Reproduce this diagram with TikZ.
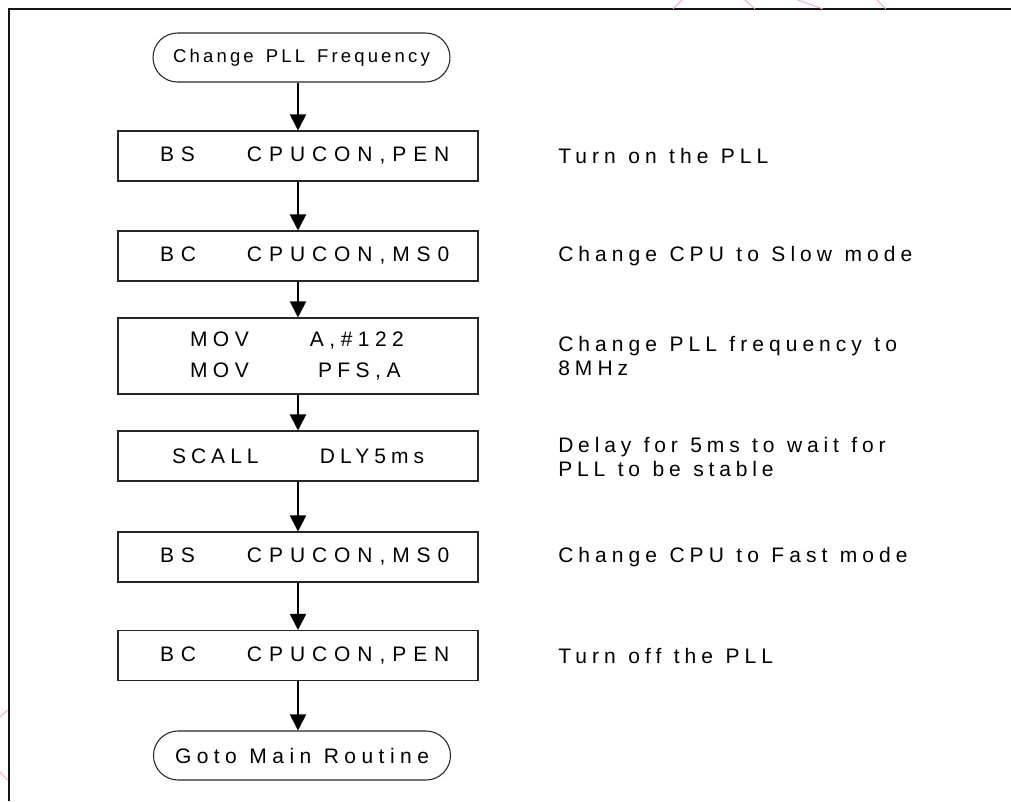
\documentclass[tikz,border=0pt]{standalone}
\usepackage{fontspec}
\setmainfont{Liberation Sans}
\usetikzlibrary{arrows.meta}
\newdimen\upx \upx=0.75pt
\newcommand\lsp[1]{\addfontfeature{LetterSpace=#1}\spaceskip=12.5\upx\relax}
\newcommand\fsz{\fontsize{15.75pt}{19pt}\selectfont}
\newcommand\fszs{\fontsize{13.9pt}{17pt}\selectfont}
\definecolor{pinkline}{RGB}{255,150,205}
\definecolor{frameline}{RGB}{20,20,20}
\tikzset{
  boxnode/.style={draw=black!85, line width=0.8pt, minimum width=360\upx, minimum height=50\upx, inner sep=0pt, font=\fsz\lsp{33}},
  termnode/.style={draw=black!85, line width=0.8pt, rounded corners=24.5\upx, minimum width=297\upx, minimum height=49\upx, inner sep=0pt, font=\fsz},
  sidenode/.style={anchor=west, align=left, inner sep=0pt, font=\fsz\lsp{24}},
  flowarrow/.style={line width=1.4pt, -{Triangle[width=12pt,length=12pt]}},
}
\newcommand\instr[4]{\makebox[360\upx][l]{\hspace*{#1\upx}\rlap{#2}\hspace*{#3\upx}#4}}
\begin{document}
\begin{tikzpicture}[x=0.75pt,y=-0.75pt]
\useasboundingbox (0,0) rectangle (1011,801);
% frame (right and bottom edges cut off)
\draw[frameline, line width=1.5pt] (8.5,801) -- (8.5,9) -- (1011,9);
% faint pink lines
\draw[pinkline, line width=0.6pt] (673,9) -- (682,0);
\draw[pinkline, line width=0.6pt] (745,0) -- (755,9);
\draw[pinkline, line width=0.6pt] (798,0) -- (823,9);
\draw[pinkline, line width=0.6pt] (877,0) -- (886,9);
\draw[pinkline, line width=0.6pt] (0,717) -- (7.5,710);
\draw[pinkline, line width=0.6pt] (0,772) -- (7.5,780);
% terminals
\node[termnode, font=\fszs] (t1) at (301.5,57.5) {\addfontfeature{LetterSpace=17}\spaceskip=12\upx\relax Change PLL Frequency};
\node[termnode] (t2) at (302,755.5) {\lsp{26}Goto Main Routine};
% boxes
\node[boxnode] (b1) at (298,156) {\instr{42}{BS}{87}{CPUCON,PEN}};
\node[boxnode] (b2) at (298,256) {\instr{42}{BC}{87}{CPUCON,MS0}};
\node[boxnode, minimum height=76\upx, align=left, font=\fsz\lsp{26}\setlength\baselineskip{31\upx}] (b3) at (298,356)
  {\instr{72}{MOV}{120}{A,\#122}\\\instr{72}{MOV}{128}{PFS,A}};
\node[boxnode, font=\fsz\lsp{24}] (b4) at (298,456) {\instr{54}{SCALL}{148}{DLY5ms}};
\node[boxnode] (b5) at (298,557) {\instr{42}{BS}{87}{CPUCON,MS0}};
\node[boxnode] (b6) at (298,655.5) {\instr{42}{BC}{87}{CPUCON,PEN}};
% side comments
\node[sidenode] (s1) at (558,156) {Turn on the PLL};
\node[sidenode] (s2) at (558,256) {Change CPU to Slow mode};
\node[sidenode, font=\fsz\lsp{24}\setlength\baselineskip{24\upx}] (s3) at (558,356) {Change PLL frequency to\\8MHz};
\node[sidenode, font=\fsz\lsp{23}\setlength\baselineskip{24\upx}] (s4) at (558,457) {Delay for 5ms to wait for\\PLL to be stable};
\node[sidenode] (s5) at (558,557) {Change CPU to Fast mode};
\node[sidenode] (s6) at (558,655.5) {Turn off the PLL};
% connectors
\draw[flowarrow] (t1.south -| b1.north) -- (b1.north);
\draw[flowarrow] (b1.south) -- (b2.north);
\draw[flowarrow] (b2.south) -- (b3.north);
\draw[flowarrow] (b3.south) -- (b4.north);
\draw[flowarrow] (b4.south) -- (b5.north);
\draw[flowarrow] (b5.south) -- (b6.north);
\draw[flowarrow] (b6.south) -- (b6.south |- t2.north);
\end{tikzpicture}
\end{document}
